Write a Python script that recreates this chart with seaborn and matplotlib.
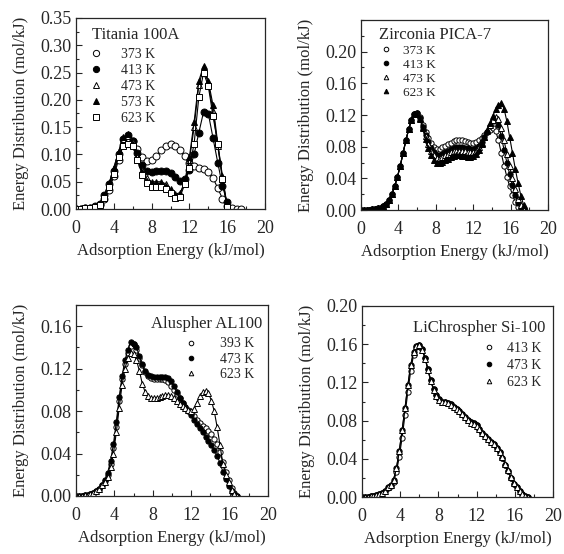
import numpy as np
import pandas as pd
import matplotlib
matplotlib.use("Agg")
import matplotlib.pyplot as plt
from matplotlib.lines import Line2D
from matplotlib.ticker import MultipleLocator, FormatStrFormatter
import seaborn as sns

# ── Data ─────────────────────────────────────────────────────────
# Titania 100A, sampled every 0.5 kJ/mol
E_TI = np.arange(36) * 0.5
ti_373 = [0.000, 0.000, 0.001, 0.002, 0.004, 0.008, 0.018, 0.035, 0.060, 0.090,
          0.118, 0.130, 0.125, 0.110, 0.095, 0.088, 0.089, 0.097, 0.108, 0.115,
          0.119, 0.116, 0.108, 0.097, 0.085, 0.079, 0.076, 0.073, 0.068, 0.057,
          0.038, 0.019, 0.006, 0.002, 0.000, 0.000]
ti_413 = [0.000, 0.000, 0.001, 0.002, 0.005, 0.010, 0.025, 0.045, 0.070, 0.100,
          0.128, 0.135, 0.125, 0.103, 0.080, 0.069, 0.068, 0.069, 0.070, 0.070,
          0.066, 0.058, 0.051, 0.055, 0.072, 0.100, 0.140, 0.178, 0.175, 0.130,
          0.085, 0.042, 0.012]
ti_473 = [0.000, 0.000, 0.001, 0.002, 0.004, 0.010, 0.025, 0.047, 0.075, 0.105,
          0.128, 0.133, 0.122, 0.095, 0.072, 0.056, 0.050, 0.050, 0.050, 0.046,
          0.037, 0.027, 0.030, 0.045, 0.090, 0.150, 0.228, 0.258, 0.230, 0.180,
          0.115, 0.055, 0.003]
ti_573 = [0.000, 0.000, 0.001, 0.002, 0.004, 0.010, 0.025, 0.047, 0.075, 0.105,
          0.132, 0.137, 0.120, 0.090, 0.068, 0.052, 0.047, 0.047, 0.047, 0.043,
          0.035, 0.025, 0.028, 0.050, 0.095, 0.160, 0.235, 0.262, 0.235, 0.190,
          0.120, 0.060, 0.005]
ti_623 = [0.000, 0.000, 0.001, 0.002, 0.004, 0.008, 0.020, 0.040, 0.065, 0.095,
          0.115, 0.120, 0.115, 0.090, 0.063, 0.047, 0.041, 0.040, 0.040, 0.037,
          0.030, 0.020, 0.022, 0.045, 0.075, 0.120, 0.205, 0.250, 0.225, 0.170,
          0.120, 0.055, 0.003]

# Zirconia PICA-7, Aluspher AL100, LiChrospher Si-100: every 0.3 kJ/mol
E_FINE = np.arange(60) * 0.3
zr_373 = [0.000, 0.000, 0.000, 0.000, 0.001, 0.001, 0.002, 0.003, 0.005, 0.008,
          0.013, 0.020, 0.030, 0.042, 0.056, 0.072, 0.088, 0.102, 0.114, 0.121,
          0.122, 0.117, 0.107, 0.098, 0.091, 0.085, 0.080, 0.077, 0.077, 0.079,
          0.081, 0.083, 0.085, 0.087, 0.088, 0.088, 0.088, 0.087, 0.086, 0.085,
          0.085, 0.086, 0.088, 0.091, 0.095, 0.098, 0.101, 0.103, 0.100, 0.088,
          0.072, 0.056, 0.042, 0.030, 0.019, 0.010, 0.004, 0.000]
zr_413 = [0.000, 0.000, 0.000, 0.000, 0.001, 0.001, 0.002, 0.003, 0.005, 0.008,
          0.013, 0.020, 0.030, 0.042, 0.056, 0.072, 0.088, 0.102, 0.114, 0.121,
          0.122, 0.116, 0.105, 0.095, 0.086, 0.078, 0.073, 0.070, 0.070, 0.071,
          0.073, 0.075, 0.077, 0.078, 0.079, 0.079, 0.079, 0.078, 0.078, 0.077,
          0.077, 0.078, 0.081, 0.086, 0.092, 0.099, 0.106, 0.112, 0.115, 0.108,
          0.093, 0.076, 0.060, 0.045, 0.031, 0.019, 0.009, 0.003, 0.000]
zr_473 = [0.000, 0.000, 0.000, 0.000, 0.001, 0.001, 0.002, 0.003, 0.005, 0.008,
          0.013, 0.020, 0.030, 0.042, 0.056, 0.072, 0.088, 0.102, 0.114, 0.121,
          0.122, 0.116, 0.105, 0.093, 0.083, 0.075, 0.069, 0.066, 0.066, 0.067,
          0.069, 0.071, 0.073, 0.074, 0.075, 0.075, 0.074, 0.074, 0.073, 0.073,
          0.073, 0.075, 0.079, 0.085, 0.092, 0.100, 0.108, 0.114, 0.118, 0.115,
          0.104, 0.088, 0.071, 0.055, 0.040, 0.026, 0.014, 0.006, 0.000]
zr_623 = [0.000, 0.000, 0.000, 0.000, 0.001, 0.001, 0.002, 0.003, 0.005, 0.008,
          0.013, 0.020, 0.030, 0.042, 0.056, 0.072, 0.088, 0.102, 0.114, 0.121,
          0.121, 0.115, 0.104, 0.090, 0.078, 0.069, 0.063, 0.060, 0.060, 0.061,
          0.063, 0.065, 0.067, 0.068, 0.069, 0.069, 0.068, 0.068, 0.067, 0.067,
          0.068, 0.071, 0.076, 0.083, 0.092, 0.101, 0.110, 0.119, 0.127, 0.133,
          0.135, 0.128, 0.112, 0.092, 0.072, 0.052, 0.034, 0.018, 0.006, 0.000]

al_393 = [0.000, 0.000, 0.000, 0.001, 0.001, 0.002, 0.003, 0.005, 0.007, 0.010,
          0.014, 0.020, 0.030, 0.045, 0.065, 0.090, 0.110, 0.124, 0.135, 0.141,
          0.143, 0.138, 0.130, 0.123, 0.117, 0.113, 0.111, 0.110, 0.110, 0.110,
          0.110, 0.109, 0.107, 0.104, 0.100, 0.096, 0.092, 0.088, 0.084, 0.081,
          0.078, 0.075, 0.072, 0.069, 0.066, 0.064, 0.061, 0.058, 0.054, 0.049,
          0.041, 0.032, 0.023, 0.015, 0.008, 0.003, 0.000]
al_473 = [0.000, 0.000, 0.000, 0.001, 0.001, 0.002, 0.003, 0.005, 0.007, 0.010,
          0.015, 0.022, 0.033, 0.049, 0.070, 0.093, 0.113, 0.128, 0.138, 0.145,
          0.143, 0.140, 0.132, 0.124, 0.118, 0.114, 0.113, 0.112, 0.112, 0.112,
          0.112, 0.112, 0.111, 0.108, 0.104, 0.098, 0.092, 0.088, 0.084, 0.080,
          0.076, 0.072, 0.068, 0.064, 0.060, 0.056, 0.052, 0.048, 0.043, 0.038,
          0.031, 0.023, 0.016, 0.009, 0.005, 0.002, 0.000]
al_623 = [0.000, 0.000, 0.000, 0.001, 0.001, 0.002, 0.003, 0.005, 0.007, 0.010,
          0.013, 0.018, 0.027, 0.040, 0.060, 0.083, 0.105, 0.120, 0.130, 0.135,
          0.134, 0.128, 0.118, 0.106, 0.098, 0.094, 0.092, 0.092, 0.092, 0.093,
          0.094, 0.095, 0.095, 0.094, 0.092, 0.090, 0.087, 0.085, 0.083, 0.081,
          0.080, 0.082, 0.088, 0.094, 0.098, 0.099, 0.097, 0.090, 0.080, 0.065,
          0.048, 0.030, 0.020, 0.013, 0.006, 0.002, 0.000]

li_413 = [0.000, 0.000, 0.000, 0.001, 0.001, 0.002, 0.003, 0.004, 0.006, 0.009,
          0.011, 0.016, 0.026, 0.042, 0.062, 0.086, 0.110, 0.132, 0.149, 0.157,
          0.159, 0.155, 0.146, 0.134, 0.122, 0.113, 0.107, 0.103, 0.100, 0.099,
          0.098, 0.097, 0.094, 0.092, 0.090, 0.087, 0.084, 0.081, 0.079, 0.077,
          0.075, 0.071, 0.067, 0.064, 0.061, 0.058, 0.055, 0.051, 0.047, 0.041,
          0.034, 0.027, 0.020, 0.014, 0.010, 0.006, 0.003, 0.001, 0.000]
li_473 = [0.000, 0.000, 0.000, 0.001, 0.001, 0.002, 0.003, 0.004, 0.006, 0.010,
          0.013, 0.018, 0.030, 0.048, 0.070, 0.093, 0.117, 0.138, 0.152, 0.158,
          0.159, 0.155, 0.146, 0.134, 0.122, 0.113, 0.107, 0.103, 0.100, 0.099,
          0.098, 0.097, 0.094, 0.092, 0.090, 0.087, 0.084, 0.081, 0.079, 0.077,
          0.075, 0.071, 0.067, 0.064, 0.061, 0.058, 0.055, 0.051, 0.047, 0.041,
          0.034, 0.027, 0.020, 0.014, 0.010, 0.006, 0.003, 0.001, 0.000]
li_623 = [0.000, 0.000, 0.000, 0.001, 0.001, 0.002, 0.003, 0.004, 0.006, 0.010,
          0.013, 0.018, 0.030, 0.048, 0.070, 0.093, 0.117, 0.138, 0.152, 0.158,
          0.159, 0.154, 0.145, 0.133, 0.121, 0.112, 0.106, 0.102, 0.100, 0.099,
          0.098, 0.096, 0.094, 0.092, 0.090, 0.087, 0.084, 0.081, 0.078, 0.076,
          0.074, 0.071, 0.067, 0.064, 0.061, 0.058, 0.055, 0.051, 0.047, 0.042,
          0.035, 0.028, 0.021, 0.015, 0.010, 0.006, 0.003, 0.001, 0.000]

# marker style per temperature: (marker, filled)
OPEN_C, FILL_C, OPEN_T, FILL_T, OPEN_S = ("o", False), ("o", True), ("^", False), ("^", True), ("s", False)

PANELS = [
    # name, energy grid, series, ylim, y major step, axes box in px (l, t, r, b)
    ("Titania 100A", E_TI,
     [("373 K", ti_373, OPEN_C), ("413 K", ti_413, FILL_C), ("473 K", ti_473, OPEN_T),
      ("573 K", ti_573, FILL_T), ("623 K", ti_623, OPEN_S)],
     0.35, 0.05, (76, 18, 265, 209)),
    ("Zirconia PICA-7", E_FINE,
     [("373 K", zr_373, OPEN_C), ("413 K", zr_413, FILL_C), ("473 K", zr_473, OPEN_T),
      ("623 K", zr_623, FILL_T)],
     0.24, 0.04, (361, 20, 548, 210)),
    ("Aluspher AL100", E_FINE,
     [("393 K", al_393, OPEN_C), ("473 K", al_473, FILL_C), ("623 K", al_623, OPEN_T)],
     0.18, 0.04, (76, 305, 268, 496)),
    ("LiChrospher Si-100", E_FINE,
     [("413 K", li_413, OPEN_C), ("473 K", li_473, FILL_C), ("623 K", li_623, OPEN_T)],
     0.20, 0.04, (362, 306, 553, 497)),
]

# legend placement per panel: title (x, y, ha), legend (loc, anchor, textpad, spacing)
LEGENDS = [
    ((0.085, 0.955, "left"), ("upper left", (0.07, 0.845), 1.3, 0.22)),
    ((0.095, 0.965, "left"), ("upper left", (0.1, 0.87), 0.75, 0.13)),
    ((0.97, 0.945, "right"), ("upper right", (0.93, 0.83), 1.6, 0.15)),
    ((0.96, 0.925, "right"), ("upper right", (0.94, 0.81), 0.8, 0.26)),
]

W, H = 564, 554
sns.set_style("ticks")
plt.rcParams["font.family"] = ["Liberation Serif", "DejaVu Serif"]

fig = plt.figure(figsize=(W / 100, H / 100), dpi=100)

for i, (name, E, series, ymax, ystep, (l, t, r, b)) in enumerate(PANELS):
    ax = fig.add_axes([l / W, 1 - b / H, (r - l) / W, (b - t) / H])
    ms = 5.0 if i == 0 else 3.8
    handles = []
    for lbl, vals, (mk, filled) in series:
        n = len(vals)
        fc = "k" if filled else "white"
        sns.lineplot(x=E[:n], y=vals, ax=ax, color="k", linewidth=0.8,
                     marker=mk, markersize=ms, markeredgewidth=0.7,
                     markeredgecolor="k", markerfacecolor=fc,
                     sort=False, estimator=None)
        handles.append(Line2D([], [], linestyle="none", marker=mk, markersize=ms - 0.5,
                              markeredgewidth=0.7, markeredgecolor="k",
                              markerfacecolor=fc, label=lbl))

    ax.set_xlim(0, 20)
    ax.set_ylim(0, ymax)
    ax.xaxis.set_major_locator(MultipleLocator(4))
    ax.xaxis.set_minor_locator(MultipleLocator(2))
    ax.yaxis.set_major_locator(MultipleLocator(ystep))
    ax.yaxis.set_minor_locator(MultipleLocator(ystep / 2))
    if i == 1:
        ax.set_yticks([0, 0.04, 0.08, 0.12, 0.16, 0.20])
    ax.yaxis.set_major_formatter(FormatStrFormatter("%.2f"))
    ax.tick_params(which="both", direction="in", labelsize=13)
    ax.tick_params(axis="x", which="major", pad=8)
    ax.tick_params(axis="y", which="major", pad=3)
    ax.tick_params(which="major", length=4, width=0.8)
    ax.tick_params(which="minor", length=2.5, width=0.8)
    for s in ax.spines.values():
        s.set_linewidth(0.9)
        s.set_visible(True)
    ax.set_xlabel("Adsorption Energy (kJ/mol)", fontsize=12, labelpad=4)
    ax.set_ylabel("Energy Distribution (mol/kJ)", fontsize=12, labelpad=8)

    (tx, ty, tha), (loc, anchor, tpad, lsp) = LEGENDS[i]
    ax.text(tx, ty, name, transform=ax.transAxes, ha=tha, va="top", fontsize=12)
    ax.legend(handles=handles, loc=loc, bbox_to_anchor=anchor, frameon=False,
              fontsize=10 if i != 1 else 9.5, handlelength=1.0, handletextpad=tpad,
              labelspacing=lsp, borderpad=0, borderaxespad=0)

fig.savefig("out.png", dpi=100)
